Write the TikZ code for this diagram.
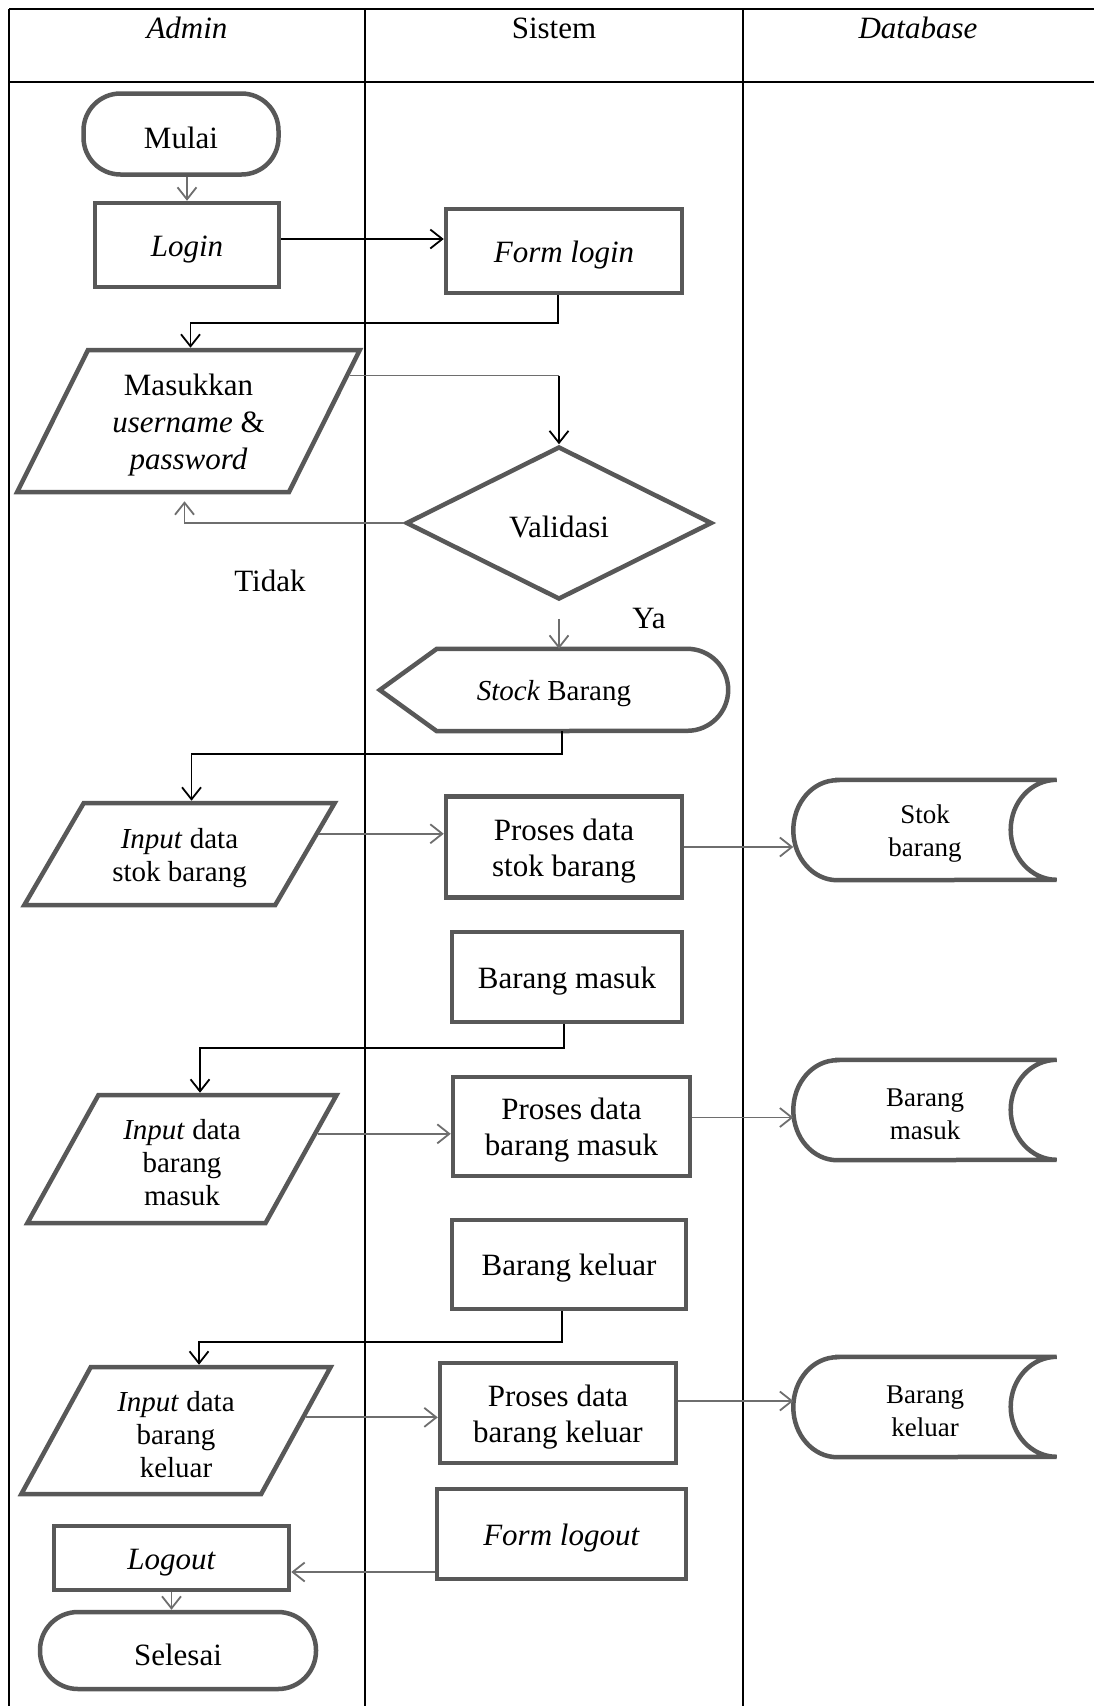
\documentclass[tikz,border=0pt]{standalone}
\usepackage{fontspec}
\setmainfont{Liberation Serif}
\usetikzlibrary{shapes.geometric,arrows.meta,calc}
\definecolor{shp}{RGB}{88,88,88}
\definecolor{cong}{RGB}{110,110,110}
\newcommand\toprl{\rule{0pt}{0.95em}}
\tikzset{
  nodebase/.style={font=\fontsize{31}{36}\selectfont, align=center, inner sep=0pt},
  lowtext/.style={execute at begin node={\rule{0pt}{0.95em}}},
  shapeline/.style={draw=shp, line width=4.5pt},
  procbox/.style={nodebase, lowtext, shapeline, rectangle},
  termbox/.style={nodebase, lowtext, shapeline, rectangle, rounded corners=37pt},
  iobox/.style={nodebase, shapeline, trapezium, trapezium stretches=true, font=\fontsize{29}{33}\selectfont},
  decbox/.style={nodebase, lowtext, shapeline, diamond, aspect=2},
  txtonly/.style={nodebase, draw=none, rectangle},
  dbtext/.style={nodebase, draw=none, rectangle, font=\fontsize{27}{33}\selectfont, minimum width=263pt, minimum height=100pt},
  arrowhd/.style={-{Straight Barb[length=12pt,width=19pt]}},
  grayline/.style={draw=cong, line width=1.8pt, arrowhd},
  graythin/.style={draw=cong, line width=1.8pt},
  blackline/.style={draw=black, line width=1.8pt},
  lane/.style={draw=black, line width=2.6pt},
}
\newcommand\drawdb[1]{\draw[shapeline] ([xshift=44pt]#1.north west) -- (#1.north east) arc[start angle=90, end angle=270, x radius=46pt, y radius=50pt] -- ([xshift=44pt]#1.south west) arc[start angle=270, end angle=90, x radius=44pt, y radius=50pt] -- cycle;}
\begin{document}
\begin{tikzpicture}[x=1pt,y=-1pt]
\useasboundingbox (0,0) rectangle (1094,1706);
\fill[white] (0,0) rectangle (1094,1706);
% swimlane table
\draw[lane] (9,9) -- (1094,9);
\draw[lane] (9,82) -- (1094,82);
\draw[lane] (9,9) -- (9,1706);
\draw[lane] (365,9) -- (365,1706);
\draw[lane] (743,9) -- (743,1706);
\node[txtonly, font=\fontsize{31}{36}\selectfont\itshape] (hadmin) at (187,28) {Admin};
\node[txtonly] (hsistem) at (554,28) {Sistem};
\node[txtonly, font=\fontsize{31}{36}\selectfont\itshape] (hdb) at (918,28) {Database};

% nodes
\node[termbox, minimum width=195pt, minimum height=81pt] (mulai) at (181,134) {Mulai};
\node[procbox, minimum width=184pt, minimum height=84pt] (login) at (187,245) {\textit{Login}};
\node[procbox, minimum width=236pt, minimum height=84pt] (formlogin) at (564,251) {\textit{Form login}};
\node[iobox, font=\fontsize{31}{37}\selectfont, trapezium left angle=64, trapezium right angle=116, minimum width=343pt, minimum height=142pt] (masukkan) at (188.5,421) {\toprl Masukkan\\\textit{username} \&\\\textit{password}};
\node[decbox, minimum width=306pt, minimum height=153pt] (validasi) at (559,523) {Validasi};
\node[txtonly, lowtext, font=\fontsize{29}{33}\selectfont, minimum width=348pt, minimum height=82pt] (stock) at (554,690) {\textit{Stock} Barang};
\draw[shapeline] (stock.west) -- ([xshift=57pt]stock.north west) -- ([xshift=-41pt]stock.north east) arc[start angle=90, end angle=-90, radius=41pt] -- ([xshift=57pt]stock.south west) -- cycle;
\node[txtonly] (tidak) at (270,581) {Tidak};
\node[txtonly] (ya) at (649,618) {Ya};

\node[iobox, trapezium left angle=58, trapezium right angle=122, minimum width=311pt, minimum height=102pt] (stokin) at (179.5,854) {\toprl\textit{Input} data\\stok barang};
\node[procbox, minimum width=236pt, minimum height=101pt] (proses1) at (564,847) {\toprl Proses data\\stok barang};
\node[dbtext] (db1) at (925,830) {\toprl Stok\\barang};
\drawdb{db1}

\node[procbox, minimum width=230pt, minimum height=90pt] (barangmasuk) at (567,977) {Barang masuk};
\node[iobox, trapezium left angle=62, trapezium right angle=118, minimum width=310pt, minimum height=128pt] (inmasuk) at (182,1159) {\toprl\textit{Input} data\\barang\\masuk};
\node[procbox, minimum width=237pt, minimum height=99pt] (proses2) at (571.5,1126.5) {\toprl Proses data\\barang masuk};
\node[dbtext] (db2) at (925,1110) {\toprl Barang\\masuk};
\drawdb{db2}

\node[procbox, minimum width=234pt, minimum height=89pt] (barangkeluar) at (569,1264.5) {Barang keluar};
\node[iobox, trapezium left angle=63, trapezium right angle=117, minimum width=310pt, minimum height=127pt] (inkeluar) at (176,1430.5) {\toprl\textit{Input} data\\barang\\keluar};
\node[procbox, minimum width=236pt, minimum height=100pt] (proses3) at (558,1413) {\toprl Proses data\\barang keluar};
\node[dbtext] (db3) at (925,1407) {\toprl Barang\\keluar};
\drawdb{db3}

\node[procbox, minimum width=249pt, minimum height=90pt] (formlogout) at (561.5,1534) {\textit{Form logout}};
\node[procbox, minimum width=235pt, minimum height=64pt] (logout) at (171.5,1558) {\textit{Logout}};
\node[termbox, rounded corners=38pt, minimum width=276pt, minimum height=77pt] (selesai) at (178,1650.5) {Selesai};

% connectors
\draw[grayline] (login.north |- mulai.south) -- (login.north);
\coordinate (c1) at ([yshift=6pt]login.east);
\draw[blackline, arrowhd] (c1) -- (c1 -| formlogin.west);
\coordinate (c2) at ([xshift=-6pt]formlogin.south);
\draw[blackline, arrowhd] (c2) -- ++(0,28) -| ([xshift=2pt]masukkan.north);
\coordinate (c3) at ($(masukkan.top right corner)!0.19!(masukkan.bottom right corner)$);
\draw[graythin] (c3) -- (c3 -| validasi.north);
\draw[blackline, arrowhd] (c3 -| validasi.north) -- (validasi.north);
\draw[grayline] (validasi.west) -| ([xshift=-4pt,yshift=-7pt]masukkan.south);
\draw[grayline] ([yshift=-17pt]validasi.south) -- (validasi.south |- stock.north);
\coordinate (c4) at ([xshift=8pt]stock.south);
\draw[blackline, arrowhd] (c4) -- ++(0,23) -| ([xshift=12pt]stokin.north);
\coordinate (c5) at ($(stokin.top right corner)!0.31!(stokin.bottom right corner)$);
\draw[grayline] (c5) -- (c5 -| proses1.west);
\draw[grayline] (proses1.east) -- (proses1.east -| db1.west);
\coordinate (c6) at ([xshift=-3pt]barangmasuk.south);
\draw[blackline, arrowhd] (c6) -- ++(0,24) -| ([xshift=18pt]inmasuk.north);
\coordinate (c7) at ($(inmasuk.top right corner)!0.31!(inmasuk.bottom right corner)$);
\draw[grayline] (c7) -- (c7 -| proses2.west);
\coordinate (c8) at ([yshift=9pt]proses2.east);
\draw[grayline] (c8) -- (c8 -| db2.west);
\coordinate (c9) at ([xshift=-7pt]barangkeluar.south);
\draw[blackline, arrowhd] (c9) -- ++(0,31) -| ([xshift=23pt]inkeluar.north);
\coordinate (c10) at ($(inkeluar.top right corner)!0.4!(inkeluar.bottom right corner)$);
\draw[grayline] (c10) -- (c10 -| proses3.west);
\coordinate (c11) at ([yshift=12pt]proses3.east);
\draw[grayline] (c11) -- (c11 -| db3.west);
\coordinate (c12) at ([yshift=-38pt]formlogout.west);
\draw[grayline] (c12) -- (c12 -| logout.east);
\draw[grayline] (logout.south) -- (logout.south |- selesai.north);
\end{tikzpicture}
\end{document}
